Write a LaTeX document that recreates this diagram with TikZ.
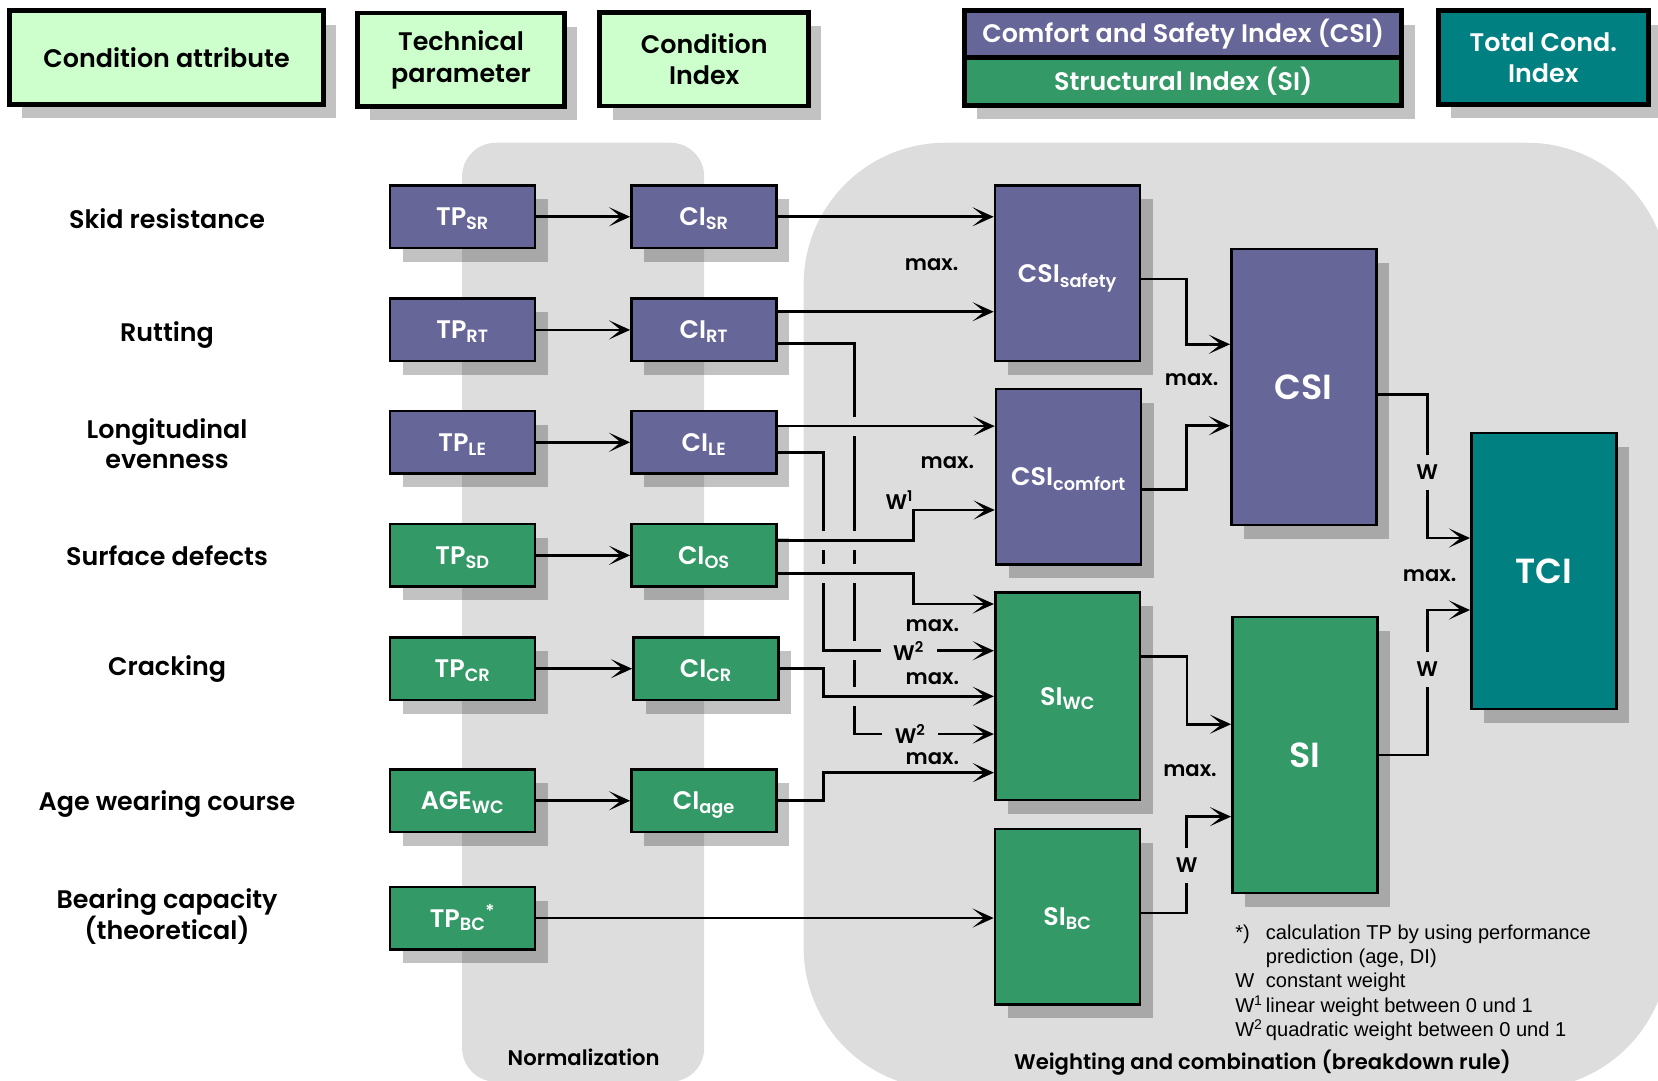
\documentclass[tikz,border=0pt]{standalone}
\usepackage{fontspec}
\setmainfont{Poppins}[BoldFont={Poppins SemiBold}]
\newfontfamily\legendfont{Liberation Sans}
\usetikzlibrary{arrows.meta,positioning,calc,shadows}

\definecolor{csiblue}{HTML}{666699}
\definecolor{sigreen}{HTML}{339966}
\definecolor{tciteal}{HTML}{008080}
\definecolor{headgreen}{HTML}{CCFFCC}
\definecolor{areagray}{HTML}{DDDDDD}

\begin{document}
\begin{tikzpicture}[
    x=1pt, y=-1pt,
    shadowed/.style={
        drop shadow={shadow xshift=12pt, shadow yshift=-13pt, fill=black, opacity=0.24}
    },
    headbox/.style={
        rectangle, draw=black, line width=4.5pt, fill=headgreen, shadowed,
        align=center, inner sep=0pt, minimum height=88.5pt,
        font=\bfseries\fontsize{24}{30}\selectfont
    },
    smallbox/.style={
        rectangle, draw=black, line width=2.5pt, shadowed, text=white,
        inner sep=0pt, minimum width=137pt, minimum height=59pt,
        text height=17pt, text depth=0pt,
        font=\bfseries\fontsize{24}{30}\selectfont
    },
    midbox/.style={smallbox, minimum height=166pt},
    bigbox/.style={
        smallbox, minimum height=261pt, text height=23pt,
        font=\bfseries\fontsize{33}{40}\selectfont
    },
    csifill/.style={fill=csiblue},
    sifill/.style={fill=sigreen},
    attr/.style={align=center, font=\bfseries\fontsize{24}{29}\selectfont},
    lab/.style={inner sep=0pt, font=\bfseries\fontsize{20}{24}\selectfont},
    wv/.style={lab, fill=areagray, inner ysep=9.5pt},
    wh/.style={lab, fill=areagray, inner xsep=12pt, inner ysep=1pt},
    arrow/.style={-{Stealth[length=20pt, width=18pt, inset=11pt]}, line width=2.5pt}
]
\useasboundingbox (0,0) rectangle (1568,1022);
\fill[areagray, rounded corners=32pt] (437,135) rectangle (666,1023);
\fill[areagray, rounded corners=134pt] (760,135) rectangle (1578,1030);

\node[headbox, minimum width=296.5pt] (hattr) at (157.5,54.5) {Condition attribute};
\node[headbox, minimum width=195.5pt] (hpar) at (436,56.5) {Technical\\parameter};
\node[headbox, minimum width=197.5pt] (hci) at (666,56) {Condition\\Index};
\node[headbox, csifill, text=white, minimum width=413.5pt, minimum height=44pt] (hcsi) at (1119,32.25) {Comfort and Safety Index (CSI)};
\node[headbox, sifill, text=white, minimum width=413.5pt, minimum height=45.5pt, below=-4.5pt of hcsi] (hsi) {Structural Index (SI)};
\node[headbox, fill=tciteal, text=white, minimum width=198.5pt] (htci) at (1459.5,54.5) {Total Cond.\\Index};

\node[attr] (asr) at (158,207) {Skid resistance};
\node[attr] (art) at (158,317) {Rutting};
\node[attr] (ale) at (158,419.5) {Longitudinal\\evenness};
\node[attr] (asd) at (158,526) {Surface defects};
\node[attr] (acr) at (158,633) {Cracking};
\node[attr] (aage) at (158,760) {Age wearing course};
\node[attr] (abc) at (158,867) {Bearing capacity\\(theoretical)};

\node[smallbox, csifill] (tpsr) at (437.4,205) {TP\textsubscript{SR}};
\node[smallbox, csifill] (tprt) at (437.4,312) {TP\textsubscript{RT}};
\node[smallbox, csifill] (tple) at (437.4,418.3) {TP\textsubscript{LE}};
\node[smallbox, sifill] (tpsd) at (437.4,525.2) {TP\textsubscript{SD}};
\node[smallbox, sifill] (tpcr) at (437.4,632.4) {TP\textsubscript{CR}};
\node[smallbox, sifill] (tpage) at (437.4,757.3) {AGE\textsubscript{WC}};
\node[smallbox, sifill] (tpbc) at (437.4,868.2) {TP\textsubscript{BC}\textsuperscript{*}};

\node[smallbox, csifill] (cisr) at (665.7,205) {CI\textsubscript{SR}};
\node[smallbox, csifill] (cirt) at (665.7,312) {CI\textsubscript{RT}};
\node[smallbox, csifill] (cile) at (665.7,418.3) {CI\textsubscript{LE}};
\node[smallbox, sifill] (cisd) at (665.7,525.2) {CI\textsubscript{OS}};
\node[smallbox, sifill] (cicr) at (667.5,632.4) {CI\textsubscript{CR}};
\node[smallbox, sifill] (ciage) at (665.7,757.3) {CI\textsubscript{age}};

\node[midbox, csifill] (csis) at (1009.5,258.5) {CSI\textsubscript{safety}};
\node[midbox, csifill] (csic) at (1010.5,451) {CSI\textsubscript{comfort}};
\node[midbox, sifill, minimum height=196pt] (siwc) at (1009.7,658.5) {SI\textsubscript{WC}};
\node[midbox, sifill] (sibc) at (1009.5,867) {SI\textsubscript{BC}};
\node[bigbox, csifill] (csi) at (1233,366.1) {CSI};
\node[bigbox, sifill] (si) at (1234,714.1) {SI};
\node[bigbox, fill=tciteal] (tci) at (1460,540.1) {TCI};

\foreach \r in {sr,rt,le,sd,cr,age}
    \draw[arrow] (tp\r) -- (ci\r);

\draw[arrow] ($(cirt.east)+(0,12.7)$) -- ++(72.5,0) |- ($(siwc.west)+(0,35.7)$) node[wh, pos=0.7] (w2b) {W\textsuperscript{2}};
\foreach \y in {403,511,542.2,615.4,658.8}
    \fill[areagray] (804.5,\y-9) rectangle (811.5,\y+9);
\draw[arrow] ($(cile.east)+(0,9.7)$) -- ++(43.1,0) |- ($(siwc.west)+(0,-43.1)$) node[wh, pos=0.75] (w2a) {W\textsuperscript{2}};
\foreach \y in {511,542.2}
    \fill[areagray] (775,\y-9) rectangle (782,\y+9);

\coordinate (rtup) at ($(cirt.east)+(0,-17.2)$);
\coordinate (leup) at ($(cile.east)+(0,-15.3)$);
\draw[arrow] (cisr.east) -- (cisr.east -| csis.west);
\draw[arrow] (rtup) -- (rtup -| csis.west);
\draw[arrow] (leup) -- (leup -| csic.west);
\draw[arrow] ($(cisd.east)+(0,-14.2)$) -- ++(128.3,0) |- ($(csic.west)+(0,31.3)$);
\draw[arrow] ($(cisd.east)+(0,17)$) -- ++(128.3,0) |- ($(siwc.west)+(0,-87.3)$);
\draw[arrow] (cicr.east) -- ++(41.3,0) |- (siwc.west);
\draw[arrow] (ciage.east) -- ++(43.1,0) |- ($(siwc.west)+(0,72.2)$);
\draw[arrow] (tpbc.east) -- (tpbc.east -| sibc.west);

\draw[arrow] ($(csis.east)+(0,5.5)$) -- ++(43,0) |- ($(csi.west)+(0,-40.5)$);
\draw[arrow] ($(csic.east)+(0,12)$) -- ++(42,0) |- ($(csi.west)+(0,36.5)$);
\draw[arrow] ($(siwc.east)+(0,-37.5)$) -- ++(43,0) |- ($(si.west)+(0,-29.2)$);
\draw[arrow] ($(sibc.east)+(0,-3.5)$) -- ++(43,0) |- ($(si.west)+(0,58.2)$) node[wv, pos=0.246] (wbc) {W};
\draw[arrow] ($(csi.east)+(0,7)$) -- ++(47,0) |- ($(tci.west)+(0,-31.3)$) node[wv, pos=0.271] (wcsi) {W};
\draw[arrow] (si.east) -- ++(46,0) |- ($(tci.west)+(0,36.8)$) node[wv, pos=0.296] (wsi) {W};

\node[lab] (w1) at (850.5,473) {W\textsuperscript{1}};
\node[lab] (m1) at (881,250.6) {max.};
\node[lab] (m2) at (896,437.6) {max.};
\node[lab] (m3) at (1127,359.4) {max.};
\node[lab] (m4) at (881.7,591.7) {max.};
\node[lab] (m5) at (881.7,642) {max.};
\node[lab] (m6) at (881.7,717.2) {max.};
\node[lab] (m7) at (1125.4,729) {max.};
\node[lab] (m8) at (1352,544.5) {max.};

\node[lab] (norm) at (552,1000) {Normalization};
\node[lab] (weight) at (1194,1005) {Weighting and combination (breakdown rule)};

\node[anchor=north west, inner sep=0pt, font=\legendfont\fontsize{19}{23}\selectfont] (legend) at (1168,872) {%
\begin{tabular}{@{}p{29pt}@{}l@{}}
*) & calculation TP by using performance\\
   & prediction (age, DI)\\
W & constant weight\\
W\textsuperscript{1} & linear weight between 0 und 1\\
W\textsuperscript{2} & quadratic weight between 0 und 1
\end{tabular}};
\end{tikzpicture}
\end{document}
